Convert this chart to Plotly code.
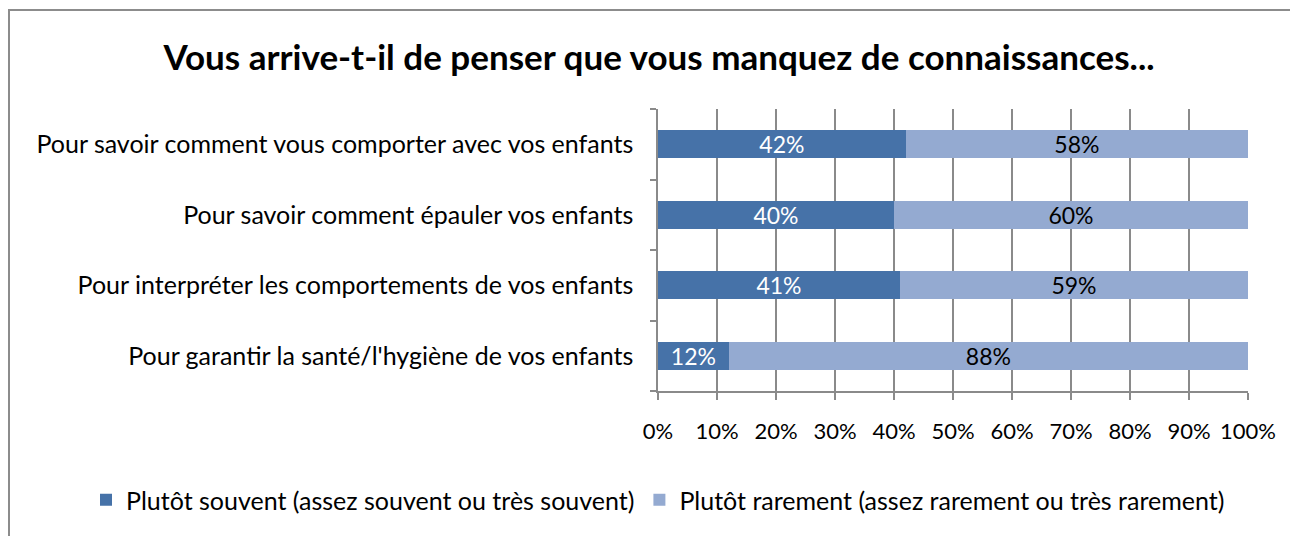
import plotly.graph_objects as go

categories = [
    "Pour garantir la santé/l'hygiène de vos enfants",
    "Pour interpréter les comportements de vos enfants",
    "Pour savoir comment épauler vos enfants",
    "Pour savoir comment vous comporter avec vos enfants",
]
souvent = [12, 41, 40, 42]
rarement = [88, 59, 60, 58]
series_names = [
    "Plutôt souvent (assez souvent ou très souvent)",
    "Plutôt rarement (assez rarement ou très rarement)",
]
x_ticks = [0, 10, 20, 30, 40, 50, 60, 70, 80, 90, 100]
title = "Vous arrive-t-il de penser que vous manquez de connaissances..."

FONT = "Lato"
DARK = "#4672A8"
LIGHT = "#94AAD1"
GRID = "#8A8A8A"

fig = go.Figure()
fig.add_trace(go.Bar(
    y=categories, x=souvent, orientation="h", name=series_names[0],
    marker=dict(color=DARK, line=dict(width=0)), width=0.4,
    text=[f"{v}%" for v in souvent], textposition="inside",
    insidetextanchor="middle", constraintext="none",
    textfont=dict(family=FONT, size=23, color="white"),
))
fig.add_trace(go.Bar(
    y=categories, x=rarement, orientation="h", name=series_names[1],
    marker=dict(color=LIGHT, line=dict(width=0)), width=0.4,
    text=[f"{v}%" for v in rarement], textposition="inside",
    insidetextanchor="middle", constraintext="none",
    textfont=dict(family=FONT, size=23, color="black"),
))

# page body adds an 8px offset; positions below are in screen pixels
OFF = 8
W, H = 1298 - OFF, 536 - OFF
L, R, T, B = 658 - OFF, 1248 - OFF, 109 - OFF, 391 - OFF
pw, ph = R - L, B - T

def px_x(p):
    return (p - OFF - L) / pw

def px_y(p):
    return (B - (p - OFF)) / ph

fig.update_layout(
    width=W, height=H,
    barmode="stack",
    bargap=0.6,
    plot_bgcolor="white", paper_bgcolor="white",
    margin=dict(l=L, r=W - R, t=T, b=H - B),
    font=dict(family=FONT, size=20, color="black"),
    title=dict(text=f"<b>{title}</b>", x=(659 - OFF) / W, xref="container", xanchor="center",
               y=1 - (58 - OFF) / H, yref="container", yanchor="middle",
               font=dict(family=FONT, size=35, color="black")),
    showlegend=True,
    legend=dict(orientation="h", x=px_x(86), xanchor="left", y=px_y(500), yanchor="middle",
                xref="paper", yref="paper", font=dict(family=FONT, size=25),
                traceorder="normal", itemwidth=30, itemsizing="constant",
                bgcolor="rgba(0,0,0,0)", borderwidth=0),
    xaxis=dict(
        range=[0, 100], tickvals=x_ticks, ticktext=[f"{v}%" for v in x_ticks],
        showgrid=True, gridcolor=GRID, gridwidth=1.5,
        showline=True, linecolor=GRID, linewidth=1.5,
        ticks="outside", ticklen=7, tickcolor=GRID, tickwidth=1.5,
        ticklabelstandoff=13, tickfont=dict(family=FONT, size=22),
        zeroline=False, fixedrange=True,
    ),
    yaxis=dict(
        categoryorder="array", categoryarray=categories,
        showline=True, linecolor=GRID, linewidth=1.5,
        ticks="outside", ticklen=6, tickcolor=GRID, tickwidth=1.5,
        tickson="boundaries", showgrid=False,
        ticklabelstandoff=18, tickfont=dict(family=FONT, size=25),
    ),
    shapes=[dict(type="rect", xref="paper", yref="paper",
                 x0=px_x(9), x1=px_x(1400), y0=px_y(700), y1=px_y(10),
                 line=dict(color="#8C8C8C", width=2), fillcolor="rgba(0,0,0,0)", layer="below")],
)

fig.write_html("out.html")
